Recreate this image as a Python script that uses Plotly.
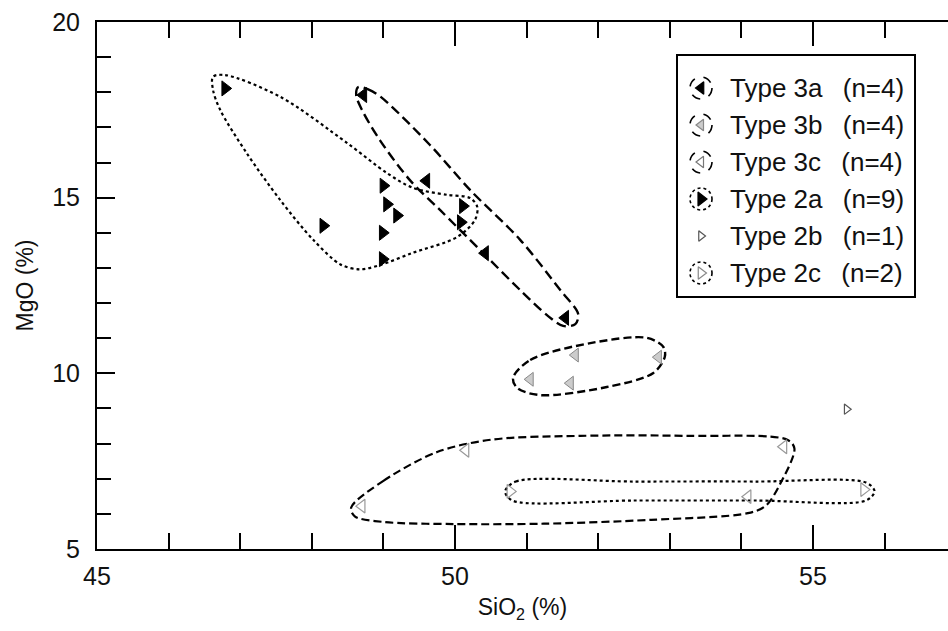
import plotly.graph_objects as go

# ---------------- data (SiO2 %, MgO %) ----------------
t3a_x = [48.72, 49.60, 50.42, 51.54]
t3a_y = [17.92, 15.48, 13.42, 11.58]

t3b_x = [51.05, 51.68, 51.61, 52.84]
t3b_y = [9.83, 10.52, 9.72, 10.46]

t3c_x = [48.70, 50.15, 54.59, 54.09]
t3c_y = [6.22, 7.81, 7.91, 6.49]

t2a_x = [46.79, 48.16, 49.00, 49.05, 49.19, 48.99, 48.99, 50.11, 50.08]
t2a_y = [18.11, 14.20, 15.34, 14.81, 14.49, 14.00, 13.25, 14.76, 14.30]

t2b_x = [55.47]
t2b_y = [8.98]

t2c_x = [50.77, 55.71]
t2c_y = [6.64, 6.69]

# envelope outlines (SiO2, MgO)
env2a_x = [46.62, 46.79, 47.56, 48.49, 49.05, 49.41, 49.89, 50.21, 50.31, 50.28, 50.03,
           49.41, 48.95, 48.67, 48.40, 48.02, 47.56, 47.09, 46.72, 46.62, 46.62]
env2a_y = [18.44, 18.49, 17.87, 16.56, 15.70, 15.28, 15.08, 14.99, 14.74, 14.37, 13.88,
           13.43, 13.08, 12.96, 13.10, 13.80, 14.93, 16.27, 17.50, 18.07, 18.44]

env3a_x = [48.65, 48.78, 48.95, 49.65, 50.21, 50.91, 51.47, 51.72, 51.68, 51.51, 51.30,
           50.91, 50.35, 49.79, 49.37, 48.95, 48.70, 48.62, 48.65]
env3a_y = [18.15, 18.09, 17.89, 16.50, 15.22, 13.80, 12.37, 11.69, 11.40, 11.35, 11.63,
           12.37, 13.51, 14.65, 15.50, 16.64, 17.50, 17.92, 18.15]

env3b_x = [50.81, 51.05, 51.89, 52.68, 52.91, 52.93, 52.77, 52.12, 51.19, 50.87, 50.81]
env3b_y = [9.87, 10.38, 10.86, 11.01, 10.75, 10.47, 10.01, 9.61, 9.38, 9.58, 9.87]

env3c_x = [48.55, 49.00, 49.75, 50.50, 51.75, 53.24, 54.64, 54.74, 54.54, 54.34, 54.09,
           52.74, 51.24, 50.00, 49.00, 48.60, 48.55]
env3c_y = [6.18, 6.94, 7.76, 8.11, 8.22, 8.22, 8.11, 7.86, 6.85, 6.23, 6.02,
           5.83, 5.72, 5.71, 5.77, 5.93, 6.18]

env2c_x = [50.70, 50.85, 52.50, 54.20, 55.74, 55.86, 55.74, 54.20, 52.50, 50.80, 50.70]
env2c_y = [6.64, 6.92, 6.92, 6.92, 6.89, 6.64, 6.38, 6.38, 6.38, 6.38, 6.64]

legend_labels = ["Type 3a\u2002\u00a0(n=4)", "Type 3b\u2002\u00a0(n=4)", "Type 3c\u2002\u00a0(n=4)",
                 "Type 2a\u2002\u00a0(n=9)", "Type 2b\u2002\u00a0(n=1)", "Type 2c\u2002\u00a0(n=2)"]

x_range = [45, 56.885]
y_range = [5, 20]

FONT = "Liberation Sans, Arial, Helvetica, sans-serif"

fig = go.Figure()

def env(xs, ys, dash, width=2.2):
    fig.add_trace(go.Scatter(x=xs, y=ys, mode="lines", line=dict(color="black", width=width,
                             dash=dash, shape="spline", smoothing=0.9),
                             hoverinfo="skip", showlegend=False))

env(env2a_x, env2a_y, "dot", 2.2)
env(env3a_x, env3a_y, "10px,5px", 2.4)
env(env3b_x, env3b_y, "8px,4px", 2.4)
env(env3c_x, env3c_y, "8px,4px", 2.2)
env(env2c_x, env2c_y, "dot", 2.2)

def pts(xs, ys, symbol, color, size=13, lw=1, lc="black"):
    fig.add_trace(go.Scatter(x=xs, y=ys, mode="markers",
                             marker=dict(symbol=symbol, size=size, color=color,
                                         line=dict(color=lc, width=lw)),
                             showlegend=False))

pts(t3a_x, t3a_y, "triangle-left", "black")
pts(t3b_x, t3b_y, "triangle-left", "rgba(170,170,170,0.6)", 12, 1, "#888")
pts(t3c_x, t3c_y, "triangle-left-open", "#999", 12, 1.2, "#999")
pts(t2a_x, t2a_y, "triangle-right", "black")
pts(t2b_x, t2b_y, "triangle-right-open", "#555", 9, 1.2, "#555")
pts(t2c_x, t2c_y, "triangle-right-open", "#999", 12, 1.2, "#999")

# ---------- manual legend (overlay axis in 0..1 coordinates) ----------
W, H = 851.0, 527.0
def px2paper(px, py):
    return (px - 97) / W, (549 - py) / H

rows_py = [88, 125, 162, 199, 236, 273]
sym_px = 701
leg_syms = [("triangle-left", "black", "black", 11),
            ("triangle-left", "rgba(170,170,170,0.6)", "#888", 10),
            ("triangle-left-open", "#777", "#777", 10),
            ("triangle-right", "black", "black", 12),
            ("triangle-right-open", "#555", "#555", 9),
            ("triangle-right-open", "#888", "#888", 11)]
circle_dash = ["dash", "dash", "dash", "dot", None, "dot"]

leg_x = []
leg_y = []
for py in rows_py:
    xp, yp = px2paper(sym_px, py)
    leg_x.append(xp)
    leg_y.append(yp)

for i, (sym, col, lc, sz) in enumerate(leg_syms):
    fig.add_trace(go.Scatter(x=[leg_x[i]], y=[leg_y[i]], mode="markers", xaxis="x2", yaxis="y2",
                             marker=dict(symbol=sym, size=sz, color=col, line=dict(color=lc, width=1.2)),
                             showlegend=False, hoverinfo="skip"))
    if circle_dash[i]:
        fig.add_shape(type="circle", xref="paper", yref="paper", xsizemode="pixel", ysizemode="pixel",
                      xanchor=leg_x[i], yanchor=leg_y[i], x0=-11, x1=11, y0=-11, y1=11,
                      line=dict(color="black", width=1.6, dash=circle_dash[i]))
    fig.add_annotation(x=(728 - 97) / W, y=leg_y[i], xref="paper", yref="paper", text=legend_labels[i],
                       showarrow=False, xanchor="left", yanchor="middle",
                       font=dict(family=FONT, size=26, color="#111"))

bx0, by0 = px2paper(677, 297)
bx1, by1 = px2paper(915, 55)
fig.add_shape(type="rect", xref="paper", yref="paper", x0=bx0, y0=by0, x1=bx1, y1=by1,
              line=dict(color="black", width=2), fillcolor="rgba(0,0,0,0)")

fig.update_layout(
    width=948, height=631,
    margin=dict(l=97, r=0, t=22, b=82),
    paper_bgcolor="white", plot_bgcolor="white",
    font=dict(family=FONT, size=22, color="#111"),
    showlegend=False,
    xaxis=dict(range=x_range, dtick=5, tick0=45, ticks="inside", ticklen=24, tickwidth=2,
               tickcolor="black", showline=True, linecolor="black", linewidth=2, mirror="ticks",
               showgrid=False, zeroline=False, tickfont=dict(size=25), ticklabelstandoff=4,
               minor=dict(dtick=1, ticks="inside", ticklen=16, tickwidth=2, tickcolor="black", showgrid=False),
               title=dict(text="SiO<sub>2</sub> (%)", font=dict(size=23), standoff=10)),
    yaxis=dict(range=y_range, dtick=5, tick0=5, ticks="inside", ticklen=18, tickwidth=2,
               tickcolor="black", showline=True, linecolor="black", linewidth=2,
               showgrid=False, zeroline=False, tickfont=dict(size=25), ticklabelstandoff=10,
               minor=dict(dtick=1, ticks="inside", ticklen=14, tickwidth=2, tickcolor="black", showgrid=False),
               title=dict(text="MgO (%)", font=dict(size=23), standoff=12)),
    xaxis2=dict(range=[0, 1], overlaying="x", visible=False, domain=[0, 1]),
    yaxis2=dict(range=[0, 1], overlaying="y", visible=False, domain=[0, 1]),
)

fig.write_html("out.html")
